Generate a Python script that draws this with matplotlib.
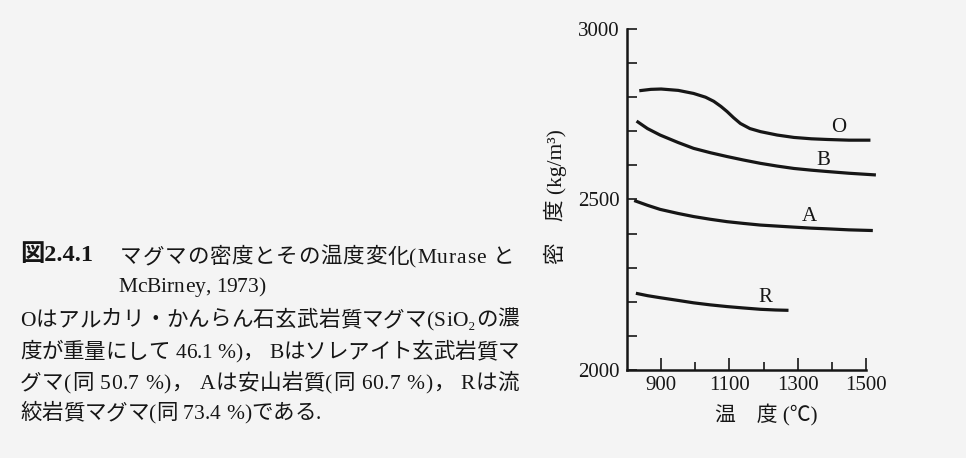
import matplotlib
matplotlib.use("Agg")
import matplotlib.pyplot as plt
from matplotlib.ticker import MultipleLocator, FixedLocator

plt.rcParams['font.family'] = ['Liberation Serif', 'Noto Sans CJK JP', 'DejaVu Serif']

# ---- data ----
temp_O = [836, 870, 900, 950, 995, 1030, 1054, 1075, 1093, 1112, 1132, 1160, 1191, 1240, 1289, 1340, 1387, 1450, 1513]
dens_O = [2819, 2823, 2824, 2820, 2811, 2800, 2788, 2773, 2758, 2740, 2723, 2708, 2699, 2689, 2682, 2678, 2676, 2674, 2674]

temp_B = [828, 860, 897, 950, 995, 1045, 1093, 1140, 1191, 1240, 1289, 1340, 1387, 1450, 1529]
dens_B = [2730, 2708, 2689, 2667, 2650, 2637, 2626, 2616, 2606, 2598, 2591, 2586, 2582, 2577, 2572]

temp_A = [821, 860, 897, 950, 995, 1044, 1093, 1140, 1191, 1240, 1289, 1340, 1387, 1450, 1520]
dens_A = [2497, 2483, 2471, 2459, 2450, 2442, 2435, 2430, 2425, 2422, 2419, 2416, 2414, 2411, 2409]

temp_R = [826, 860, 897, 950, 995, 1044, 1093, 1140, 1191, 1235, 1273]
dens_R = [2225, 2218, 2212, 2204, 2197, 2191, 2186, 2182, 2178, 2176, 2175]

curve_names = ["O", "B", "A", "R"]
label_pos_T = [1420, 1376, 1335, 1206]
label_pos_D = [2710, 2614, 2449, 2214]

x_ticklabels = ["900", "1100", "1300", "1500"]
x_major = [900, 1100, 1300, 1500]
x_minor = [1000, 1200, 1400]
y_ticklabels = ["2000", "2500", "3000"]
y_major = [2000, 2500, 3000]

caption_head = "図2.4.1"
caption_lines = [
    "マグマの密度とその温度変化(Murase と",
    "McBirney, 1973)",
    "Oはアルカリ・かんらん石玄武岩質マグマ(SiO₂の濃",
    "度が重量にして 46.1 %)， Bはソレアイト玄武岩質マ",
    "グマ(同 50.7 %)， Aは安山岩質(同 60.7 %)， Rは流",
    "絞岩質マグマ(同 73.4 %)である.",
]

W, H = 966, 458
BG = "#f4f4f4"
INK = "#161616"

fig = plt.figure(figsize=(W / 100, H / 100), dpi=100, facecolor=BG)

def fx(px):
    return px / W

def fy(py):
    return 1 - py / H

ax = fig.add_axes([fx(627), fy(370), fx(866) - fx(627), fy(29) - fy(370)])
ax.set_facecolor(BG)
ax.set_xlim(800, 1500)
ax.set_ylim(2000, 3000)

for T, D in [(temp_O, dens_O), (temp_B, dens_B), (temp_A, dens_A), (temp_R, dens_R)]:
    ax.plot(T, D, color=INK, lw=2.3, solid_capstyle='butt', clip_on=False)

for name, t, d in zip(curve_names, label_pos_T, label_pos_D):
    ax.text(t, d, name, fontsize=15, color=INK, ha='center', va='center')

for s in ['top', 'right']:
    ax.spines[s].set_visible(False)
for s in ['left', 'bottom']:
    ax.spines[s].set_linewidth(1.8)
    ax.spines[s].set_color(INK)

ax.xaxis.set_major_locator(FixedLocator(x_major))
ax.xaxis.set_minor_locator(FixedLocator(x_minor))
ax.set_xticklabels(x_ticklabels)
ax.yaxis.set_major_locator(FixedLocator(y_major))
ax.yaxis.set_minor_locator(MultipleLocator(100))
ax.set_yticklabels(y_ticklabels)

ax.tick_params(axis='x', which='major', direction='in', length=9, width=1.2, color=INK,
               labelsize=15, labelcolor=INK, pad=4)
ax.tick_params(axis='x', which='minor', direction='in', length=5.5, width=1.2, color=INK)
ax.tick_params(axis='y', which='major', direction='in', length=7, width=1.2, color=INK,
               labelsize=15, labelcolor=INK, pad=5)
ax.tick_params(axis='y', which='minor', direction='in', length=7, width=1.2, color=INK)

fig.text(fx(766), fy(415), "温　度 (℃)", fontsize=15, color=INK, ha='center', va='center')
fig.text(fx(555), fy(197), "密　度 (kg/m³)", fontsize=15.5, color=INK, ha='center', va='center',
         rotation=90)

# caption
fig.text(fx(20), fy(255), caption_head, fontsize=17.5, fontweight='bold', color=INK, ha='left', va='center')

renderer = fig.canvas.get_renderer()

def justified(s, x0, x1, y, size, justify):
    texts = [fig.text(0, fy(y), ch, fontsize=size, color=INK, ha='left', va='baseline')
             for ch in s]
    widths = [t.get_window_extent(renderer).width for t in texts]
    gap = 0.0
    if justify and len(s) > 1:
        gap = (x1 - x0 - sum(widths)) / (len(s) - 1)
    x = x0
    for t, w in zip(texts, widths):
        t.set_x(fx(x))
        x += w + gap

line_x0 = [120, 118, 20, 20, 20, 20]
line_x1 = [514, 0, 519, 519, 519, 0]
line_base = [263, 292, 326, 358, 389, 419]
line_just = [True, False, True, True, True, False]
for s, x0, x1, yb, j in zip(caption_lines, line_x0, line_x1, line_base, line_just):
    justified(s, x0, x1, yb, 15.5, j)

fig.savefig("out.png", dpi=100, facecolor=BG)
